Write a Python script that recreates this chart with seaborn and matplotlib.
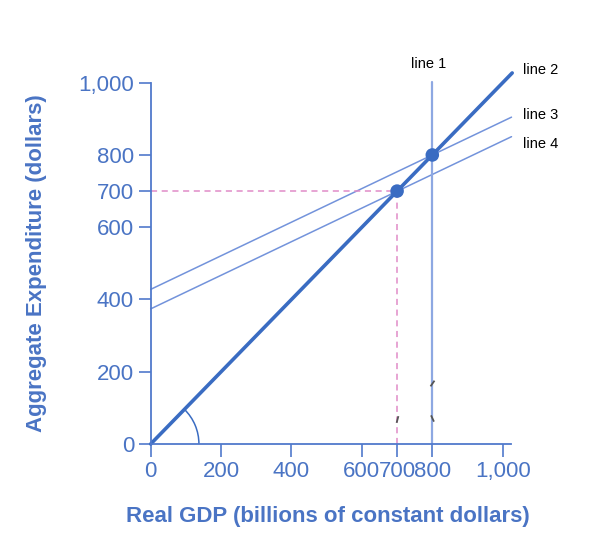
import numpy as np
import pandas as pd
import matplotlib
matplotlib.use("Agg")
import matplotlib.pyplot as plt
from matplotlib.patches import Arc
import seaborn as sns

# data
gdp_ends = [0, 1027]                 # 45-degree line (line 2)
ae_slope = 0.465                     # slope of the two AE lines
ae_high_intercept = 428              # line 3, meets line 2 at 800
ae_low_intercept = 374               # line 4, meets line 2 at 700
line_end = 1025
vertical_x = 800                     # line 1
vertical_top = 1003
eq_points_x = [700, 800]
eq_points_y = [700, 800]
# little grey stroke marks on the vertical lines
stroke_x = [800, 700, 800]
stroke_y = [169, 69, 72]
stroke_angle = [-35, -15, 25]
xticks = [0, 200, 400, 600, 700, 800, 1000]
yticks = [0, 200, 400, 600, 700, 800, 1000]
tick_labels_x = ["0", "200", "400", "600", "700", "800", "1,000"]
tick_labels_y = ["0", "200", "400", "600", "700", "800", "1,000"]

sns.set_style("white")
plt.rcParams["font.family"] = ["Liberation Sans", "DejaVu Sans"]

axis_blue = "#5079cc"
text_blue = "#4a74c4"
thick_blue = "#3a6cc2"
thin_blue = "#7393db"
pink = "#e08cc8"

fig = plt.figure(figsize=(5.94, 5.37), dpi=100)
ax = fig.add_axes([0.2537, 0.1732, 0.6163, 0.6997])

# AE lines
xs = np.array([0, line_end])
ae = pd.DataFrame({
    "x": np.concatenate([xs, xs]),
    "y": np.concatenate([ae_high_intercept + ae_slope * xs, ae_low_intercept + ae_slope * xs]),
    "line": ["line 3"] * 2 + ["line 4"] * 2,
})
sns.lineplot(data=ae, x="x", y="y", units="line", estimator=None, color=thin_blue,
             linewidth=1.1, ax=ax, clip_on=False)

# dashed guides to (700, 700)
ax.plot([0, eq_points_x[0]], [eq_points_y[0], eq_points_y[0]], ls=(0, (4, 3)), color=pink, lw=1.1)
ax.plot([eq_points_x[0], eq_points_x[0]], [0, eq_points_y[0]], ls=(0, (4, 3)), color=pink, lw=1.1)

# line 1 (vertical)
ax.plot([vertical_x, vertical_x], [0, vertical_top], color="#8ea8e2", lw=1.6, clip_on=False)

# 45-degree line
sns.lineplot(x=gdp_ends, y=gdp_ends, color=thick_blue, linewidth=2.6, ax=ax, clip_on=False)

sns.scatterplot(x=eq_points_x, y=eq_points_y, color=thick_blue, s=95, edgecolor="none",
                zorder=5, ax=ax, clip_on=False)

for sx, sy, ang in zip(stroke_x, stroke_y, stroke_angle):
    ax.plot(sx, sy, marker=(2, 0, ang), markersize=5, markeredgewidth=1.3,
            color="#555555", zorder=6)

# angle arc at origin
ax.add_patch(Arc((0, 0), 2 * 137, 2 * 134, theta1=0, theta2=45, color=thick_blue, lw=1.1))

ax.set_xlim(0, 1040)
ax.set_ylim(0, 1040)
ax.set_xticks(xticks)
ax.set_xticklabels(tick_labels_x)
ax.set_yticks(yticks)
ax.set_yticklabels(tick_labels_y)
ax.tick_params(axis="both", colors=axis_blue, labelcolor=text_blue, labelsize=16,
               length=9, width=1.2, direction="out", pad=3, bottom=True, left=True)
for s in ["top", "right"]:
    ax.spines[s].set_visible(False)
for s in ["left", "bottom"]:
    ax.spines[s].set_color(axis_blue)
    ax.spines[s].set_linewidth(1.3)
ax.spines["left"].set_bounds(0, 1000)
ax.spines["bottom"].set_bounds(0, 1025)

ax.set_xlabel("Real GDP (billions of constant dollars)", fontsize=16, fontweight="bold",
              color=text_blue)
ax.set_ylabel("Aggregate Expenditure (dollars)", fontsize=16, fontweight="bold",
              color=text_blue)
# place labels where they sit in the reference (pixel -> axes fraction)
ax_w, ax_h = 0.6163 * 594, 0.6997 * 537
ax.xaxis.set_label_coords((328 - 150.7) / ax_w, (444 - 517) / ax_h)
ax.xaxis.label.set_va("center")
ax.yaxis.set_label_coords((37 - 150.7) / ax_w, (444 - 263) / ax_h)
ax.yaxis.label.set_va("center")

ax.text(790, 1052, "line 1", fontsize=10.5, color="black", ha="center", va="center", clip_on=False)
ax.text(1058, 1035, "line 2", fontsize=10.5, color="black", ha="left", va="center", clip_on=False)
ax.text(1058, 911, "line 3", fontsize=10.5, color="black", ha="left", va="center", clip_on=False)
ax.text(1058, 830, "line 4", fontsize=10.5, color="black", ha="left", va="center", clip_on=False)

fig.savefig("out.png", dpi=100)
